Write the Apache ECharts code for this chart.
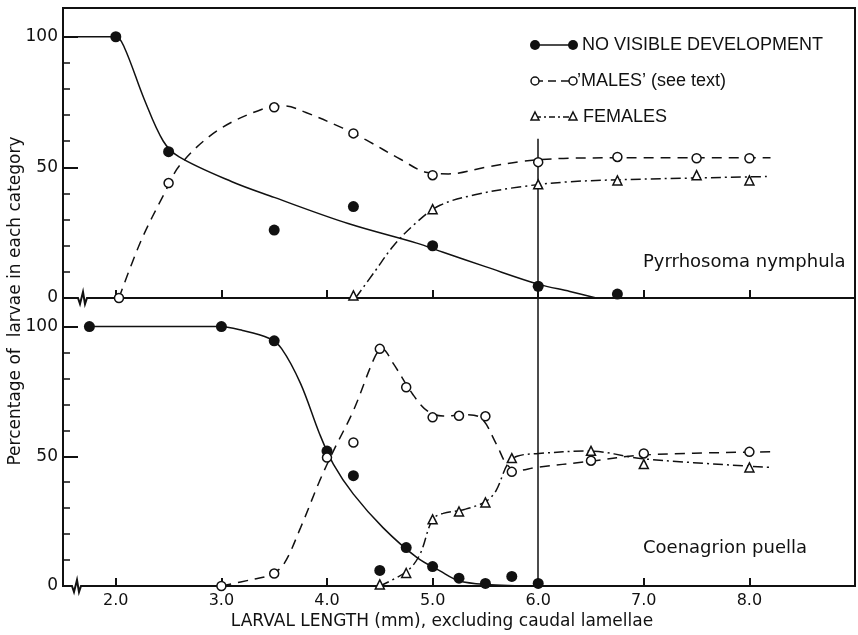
<!DOCTYPE html>
<html lang="en">
<head>
<meta charset="UTF-8">
<title>Larval development</title>
<script src="https://cdn.jsdelivr.net/npm/echarts@6/dist/echarts.min.js"></script>
<style>
  html, body { margin: 0; padding: 0; background: #fff; }
</style>
</head>
<body>
<div id="main" style="width: 858px;height:635px;"></div>
<script>
// tick values
var xTicks = [2, 3, 4, 5, 6, 7, 8];
var yMinorTicks = [0, 10, 20, 30, 40, 50, 60, 70, 80, 90, 100];
var yMajorTicks = [0, 50, 100];

// Pyrrhosoma nymphula (top panel) - observed points
var pnNoneX = [2.0, 2.5, 3.5, 4.25, 5.0, 6.0, 6.75];
var pnNoneY = [100, 56, 26, 35, 20, 4.5, 1.5];
var pnMaleX = [2.03, 2.5, 3.5, 4.25, 5.0, 6.0, 6.75, 7.5, 8.0];
var pnMaleY = [0, 44, 73, 63, 47, 52, 54, 53.5, 53.5];
var pnFemX = [4.25, 5.0, 6.0, 6.75, 7.5, 8.0];
var pnFemY = [1, 34, 43.5, 45, 47, 45];

// fitted curves, top panel
var pnNoneCurve = [[1.55, 100], [2.0, 100], [2.08, 96], [2.27, 76], [2.45, 60], [2.6, 54], [3.1, 44.5], [3.5, 38.5],
  [4.2, 28.5], [4.85, 21], [5.1, 17.5], [5.5, 12], [6.0, 5.3], [6.3, 2.5], [6.55, 0]];
var pnMaleCurve = [[2.03, 0], [2.24, 22], [2.46, 40], [2.61, 51], [2.96, 64], [3.4, 72.5], [3.6, 73.5], [3.8, 71],
  [4.15, 65], [4.37, 60.5], [4.7, 53], [4.95, 48], [5.15, 47.5], [5.5, 50], [5.85, 52.3], [6.3, 53.5], [7.0, 53.7], [8.2, 53.7]];
var pnFemCurve = [[4.27, 0], [4.45, 10], [4.63, 20], [4.85, 29], [5.07, 35.5], [5.4, 39.5], [5.82, 42.5],
  [6.3, 44.5], [7.0, 45.5], [8.2, 46.5]];

// Coenagrion puella (bottom panel) - observed points
var cpNoneX = [1.75, 3.0, 3.5, 4.0, 4.25, 4.5, 4.75, 5.0, 5.25, 5.5, 5.75, 6.0];
var cpNoneY = [100, 100, 94.5, 52, 42.5, 6, 14.8, 7.5, 3, 1, 3.7, 1];
var cpMaleX = [3.0, 3.5, 4.0, 4.25, 4.5, 4.75, 5.0, 5.25, 5.5, 5.75, 6.5, 7.0, 8.0];
var cpMaleY = [0, 4.8, 49.5, 55.3, 91.4, 76.6, 65, 65.6, 65.4, 44, 48.3, 51.1, 51.7];
var cpFemX = [4.5, 4.75, 5.0, 5.25, 5.5, 5.75, 6.5, 7.0, 8.0];
var cpFemY = [0.6, 5, 25.7, 28.7, 32.2, 49.3, 52.1, 47, 45.7];

// fitted curves, bottom panel
var cpNoneCurve = [[1.76, 100], [2.97, 100], [3.2, 98.5], [3.45, 95.5], [3.57, 91.5], [3.75, 78], [3.93, 58.6],
  [4.06, 47], [4.25, 35.4], [4.53, 22.5], [4.85, 11], [5.07, 5.8], [5.25, 2], [5.5, 0.6], [6.0, 0]];
var cpMaleCurve = [[3.0, 0], [3.3, 2.6], [3.47, 4.4], [3.59, 8.4], [3.75, 22.5], [3.93, 40.5], [4.06, 52],
  [4.25, 67.6], [4.45, 88], [4.52, 91.5], [4.63, 85.6], [4.81, 74], [4.95, 67.5], [5.1, 65.5], [5.3, 66],
  [5.45, 65], [5.6, 55], [5.7, 47], [5.8, 44.5], [5.98, 45.7], [6.48, 48], [7.0, 50.5], [8.2, 51.7]];
var cpFemCurve = [[4.5, 0], [4.76, 5.8], [4.88, 12.2], [5.0, 25.7], [5.1, 28], [5.3, 29.5], [5.5, 32.5],
  [5.6, 36.7], [5.71, 47], [5.8, 50], [5.98, 51], [6.48, 52], [7.0, 49], [8.2, 45.7]];

var ink = '#111';
var font = 'Liberation Sans, Arial, sans-serif';
var wide = 'DejaVu Sans, sans-serif';

function pts(xs, ys) {
  return xs.map(function (x, i) { return [x, ys[i]]; });
}

function xAxisFor(gi, labels) {
  return {
    type: 'value', gridIndex: gi, min: 1.5, max: 9.0,
    axisLine: { show: true, lineStyle: { color: ink, width: 2 } },
    axisTick: { show: true, inside: true, length: 8, customValues: xTicks, lineStyle: { color: ink, width: 2 } },
    axisLabel: {
      show: labels, customValues: xTicks, color: ink, fontSize: 16, fontFamily: wide, margin: 7,
      formatter: function (v) { return v.toFixed(1); }
    },
    splitLine: { show: false }
  };
}

function yAxesFor(gi) {
  return [{
    type: 'value', gridIndex: gi, min: 0, max: 111,
    axisLine: { show: true, lineStyle: { color: ink, width: 2 } },
    axisTick: { show: true, inside: true, length: 7, customValues: yMinorTicks, lineStyle: { color: ink, width: 1.5 } },
    axisLabel: { show: true, customValues: yMajorTicks, color: ink, fontSize: 17, fontFamily: wide, margin: 5 },
    splitLine: { show: false }
  }, {
    type: 'value', gridIndex: gi, min: 0, max: 111, position: 'left', offset: 0,
    axisLine: { show: false },
    axisTick: { show: true, inside: true, length: 15, customValues: yMajorTicks, lineStyle: { color: ink, width: 2 } },
    axisLabel: { show: false },
    splitLine: { show: false }
  }];
}

function curve(gi, data, type) {
  return {
    type: 'line', xAxisIndex: gi, yAxisIndex: gi * 2, data: data, smooth: 0.35,
    symbol: 'none', silent: true, z: 2,
    lineStyle: { color: ink, width: 1.5, type: type }
  };
}

function marks(gi, data, symbol, filled, size) {
  return {
    type: 'scatter', xAxisIndex: gi, yAxisIndex: gi * 2, data: data, symbol: symbol, symbolSize: size, z: 5,
    itemStyle: { color: filled ? ink : '#fff', borderColor: ink, borderWidth: filled ? 0 : 1.5, opacity: 1 }
  };
}

var dashM = [10, 7];
var dashF = [10, 4, 2, 4];

var vLineTop = curve(0, [], 'solid');
vLineTop.markLine = {
  silent: true, symbol: 'none', label: { show: false },
  lineStyle: { color: ink, width: 1.5, type: 'solid' },
  data: [[{ coord: [6, 61] }, { coord: [6, 0] }]]
};
var vLineBot = curve(1, [], 'solid');
vLineBot.markLine = {
  silent: true, symbol: 'none', label: { show: false },
  lineStyle: { color: ink, width: 1.5, type: 'solid' },
  data: [[{ coord: [6, 111] }, { coord: [6, 0] }]]
};

var myChart = echarts.init(document.getElementById('main'));

var legendY = [45, 81, 117];
var txt = { fill: ink, fontSize: 18, fontFamily: font, verticalAlign: 'middle' };
var txtWide = { fill: ink, fontSize: 18, fontFamily: wide, verticalAlign: 'middle' };

myChart.setOption({
  animation: false,
  backgroundColor: '#fff',
  grid: [
    { left: 63, right: 3, top: 8, height: 290, show: true, borderColor: ink, borderWidth: 2, containLabel: false },
    { left: 63, right: 3, top: 298, height: 288, show: true, borderColor: ink, borderWidth: 2, containLabel: false }
  ],
  xAxis: [xAxisFor(0, false), xAxisFor(1, true)],
  yAxis: yAxesFor(0).concat(yAxesFor(1)),
  series: [
    curve(0, pnNoneCurve, 'solid'),
    curve(0, pnMaleCurve, dashM),
    curve(0, pnFemCurve, dashF),
    marks(0, pts(pnNoneX, pnNoneY), 'circle', true, 11),
    marks(0, pts(pnMaleX, pnMaleY), 'circle', false, 9),
    marks(0, pts(pnFemX, pnFemY), 'triangle', false, 9),
    curve(1, cpNoneCurve, 'solid'),
    curve(1, cpMaleCurve, dashM),
    curve(1, cpFemCurve, dashF),
    marks(1, pts(cpNoneX, cpNoneY), 'circle', true, 11),
    marks(1, pts(cpMaleX, cpMaleY), 'circle', false, 9),
    marks(1, pts(cpFemX, cpFemY), 'triangle', false, 9),
    vLineTop,
    vLineBot
  ],
  graphic: [
    // axis titles
    { type: 'text', x: 16, y: 301, rotation: Math.PI / 2, z: 100,
      style: { text: 'Percentage of  larvae in each category', fill: ink, fontSize: 17, fontFamily: wide, align: 'center', verticalAlign: 'middle' } },
    { type: 'text', x: 442, y: 622, z: 100,
      style: { text: 'LARVAL LENGTH (mm), excluding caudal lamellae', fill: ink, fontSize: 17, fontFamily: wide, align: 'center', verticalAlign: 'middle' } },
    // panel names
    { type: 'text', x: 643, y: 262, z: 100, style: Object.assign({ text: 'Pyrrhosoma nymphula' }, txtWide) },
    { type: 'text', x: 643, y: 548, z: 100, style: Object.assign({ text: 'Coenagrion puella' }, txtWide) },
    // legend
    { type: 'line', z: 100, shape: { x1: 535, y1: legendY[0], x2: 573, y2: legendY[0] }, style: { stroke: ink, lineWidth: 1.5 } },
    { type: 'circle', z: 101, shape: { cx: 535, cy: legendY[0], r: 5 }, style: { fill: ink } },
    { type: 'circle', z: 101, shape: { cx: 573, cy: legendY[0], r: 5 }, style: { fill: ink } },
    { type: 'text', x: 582, y: legendY[0], z: 100, style: Object.assign({ text: 'NO VISIBLE DEVELOPMENT' }, txt) },
    { type: 'line', z: 100, shape: { x1: 535, y1: legendY[1], x2: 573, y2: legendY[1] }, style: { stroke: ink, lineWidth: 1.5, lineDash: [8, 5] } },
    { type: 'circle', z: 101, shape: { cx: 535, cy: legendY[1], r: 4 }, style: { fill: '#fff', stroke: ink, lineWidth: 1.5 } },
    { type: 'circle', z: 101, shape: { cx: 573, cy: legendY[1], r: 4 }, style: { fill: '#fff', stroke: ink, lineWidth: 1.5 } },
    { type: 'text', x: 577, y: legendY[1], z: 100, style: Object.assign({ text: '\u2019MALES\u2019 (see text)' }, txt) },
    { type: 'line', z: 100, shape: { x1: 535, y1: legendY[2], x2: 573, y2: legendY[2] }, style: { stroke: ink, lineWidth: 1.5, lineDash: [6, 3, 2, 3] } },
    { type: 'polygon', z: 101, shape: { points: [[535, legendY[2] - 5], [539, legendY[2] + 3], [531, legendY[2] + 3]] }, style: { fill: '#fff', stroke: ink, lineWidth: 1.5 } },
    { type: 'polygon', z: 101, shape: { points: [[573, legendY[2] - 5], [577, legendY[2] + 3], [569, legendY[2] + 3]] }, style: { fill: '#fff', stroke: ink, lineWidth: 1.5 } },
    { type: 'text', x: 583, y: legendY[2], z: 100, style: Object.assign({ text: 'FEMALES' }, txt) },
    // axis breaks
    { type: 'rect', z: 100, shape: { x: 76, y: 295, width: 12, height: 6 }, style: { fill: '#fff' } },
    { type: 'polyline', z: 101, shape: { points: [[75, 298], [78, 298], [80, 304], [83, 292], [85, 304], [87, 298], [90, 298]] }, style: { stroke: ink, lineWidth: 2, fill: null } },
    { type: 'rect', z: 100, shape: { x: 70, y: 583, width: 12, height: 6 }, style: { fill: '#fff' } },
    { type: 'polyline', z: 101, shape: { points: [[69, 586], [72, 586], [74, 592], [77, 580], [79, 592], [81, 586], [84, 586]] }, style: { stroke: ink, lineWidth: 2, fill: null } }
  ]
});
</script>
</body>
</html>
